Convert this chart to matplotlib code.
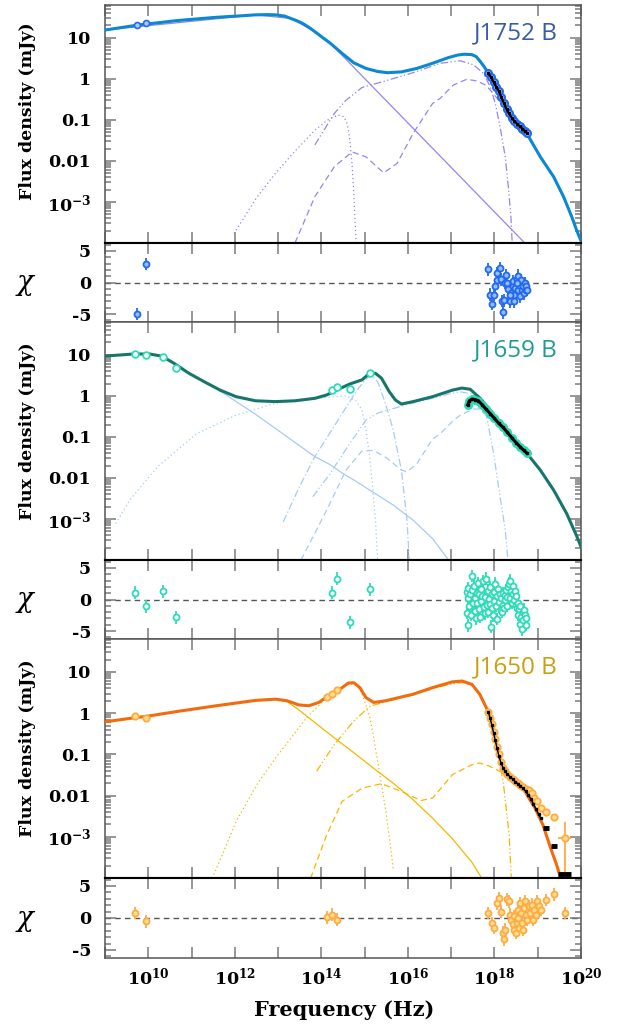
import numpy as np
import matplotlib.pyplot as plt
from matplotlib.ticker import (FixedLocator, FixedFormatter, NullLocator,
                               MultipleLocator, LogLocator, NullFormatter)

plt.rcParams['font.family'] = ['DejaVu Serif']
plt.rcParams['mathtext.fontset'] = 'dejavuserif'
plt.rcParams['mathtext.default'] = 'bf'
plt.rcParams['axes.unicode_minus'] = False

# all frequencies are log10(nu / Hz), all fluxes log10(F / mJy)

# ---------------- J1752 B ----------------
j1752_total_nu = [9.0, 9.75, 10.66, 11.57, 12.2, 12.48, 12.75, 12.94, 13.15, 13.30, 13.45, 13.57, 13.72, 13.85,
                  14.05, 14.21, 14.48, 14.75, 15.03, 15.30, 15.53, 15.85, 16.21, 16.57, 16.94, 17.15,
                  17.30, 17.48, 17.58, 17.66, 17.76, 17.88, 18.10, 18.33, 18.52, 18.73, 19.06, 19.37,
                  19.60, 19.79, 19.90, 20.0]
j1752_total_f = [1.19, 1.31, 1.42, 1.50, 1.54, 1.56, 1.565, 1.56, 1.53, 1.47, 1.41, 1.35, 1.25, 1.15,
                 0.99, 0.865, 0.62, 0.39, 0.255, 0.18, 0.15, 0.17, 0.255, 0.38, 0.52, 0.58,
                 0.60, 0.59, 0.54, 0.44, 0.30, 0.10, -0.30, -0.84, -1.09, -1.30, -1.90, -2.39,
                 -2.88, -3.37, -3.69, -3.95]
j1752_sync_nu = [9.0, 12.48, 13.30, 13.85, 14.21, 18.70]
j1752_sync_f = [1.19, 1.56, 1.47, 1.15, 0.865, -4.0]
j1752_bb_nu = [11.98, 12.5, 12.94, 13.4, 13.85, 14.15, 14.39, 14.52, 14.60, 14.66, 14.71, 14.75, 14.78, 14.81]
j1752_bb_f = [-3.77, -2.9, -2.3, -1.75, -1.25, -1.0, -0.88, -0.92, -1.1, -1.5, -2.1, -2.8, -3.5, -4.1]
j1752_disk_nu = [13.85, 14.3, 14.57, 14.94, 15.48, 16.12, 16.75, 17.21, 17.52, 17.75, 17.90, 18.02,
                 18.13, 18.25, 18.32, 18.38, 18.41]
j1752_disk_f = [-1.61, -0.84, -0.52, -0.21, -0.05, 0.15, 0.38, 0.44, 0.34, 0.13, -0.19, -0.6,
                -1.17, -1.90, -2.63, -3.36, -4.0]
j1752_comp_nu = [13.39, 13.85, 14.3, 14.71, 15.03, 15.44, 15.75, 16.12, 16.57, 16.75, 17.05, 17.36,
                 17.59, 17.79, 17.90, 18.10, 18.33, 18.52, 18.73, 19.06, 19.37, 19.60, 19.79, 19.90, 20.0]
j1752_comp_f = [-4.0, -2.87, -2.14, -1.78, -1.90, -2.29, -2.06, -1.33, -0.60, -0.47, -0.15, -0.01,
                -0.05, -0.15, -0.27, -0.52, -0.86, -1.10, -1.31, -1.91, -2.40, -2.89, -3.38, -3.70, -3.96]
j1752_radio_nu = [9.75, 9.95]
j1752_radio_f = [1.31, 1.35]
j1752_xray_nu = [17.86, 17.92, 17.98, 18.04, 18.10, 18.16, 18.22, 18.28, 18.33, 18.40, 18.46, 18.52,
                 18.58, 18.64, 18.70, 18.75]
j1752_xray_f = [0.14, 0.04, -0.08, -0.19, -0.30, -0.45, -0.60, -0.74, -0.84, -0.95, -1.03, -1.09,
                -1.15, -1.21, -1.27, -1.32]
j1752_res_nu = [9.74, 9.95,
                17.85, 17.89, 17.94, 17.98, 18.01, 18.05, 18.07, 18.12, 18.14, 18.17, 18.19, 18.21,
                18.24, 18.26, 18.30, 18.32, 18.35, 18.37, 18.39, 18.42, 18.44, 18.46, 18.48, 18.51,
                18.54, 18.55, 18.57, 18.59, 18.62, 18.64, 18.65, 18.68, 18.70, 18.72, 18.74, 18.75,
                18.52, 18.45, 18.35]
j1752_res_chi = [-5.0, 2.9,
                 2.1, -1.9, -3.4, -1.9, -0.6, 0.4, 1.5, 2.3, 0.5, -2.9, -4.7, -2.8,
                 0.0, 1.2, -0.1, -1.1, -2.7, -3.0, -1.7, -0.6, 0.2, -1.9, -0.9, 0.5,
                 1.1, -1.2, -0.4, -2.2, 0.4, -1.2, -0.6, -1.7, -0.1, -1.2, -0.6, -1.2,
                 0.0, -3.0, -1.9]

# ---------------- J1659 B ----------------
j1659_total_nu = [9.0, 9.66, 10.03, 10.30, 10.57, 10.94, 11.30, 11.66, 12.03, 12.48, 12.94, 13.39,
                  13.85, 14.12, 14.39, 14.66, 14.94, 15.06, 15.15, 15.25, 15.39, 15.57, 15.71, 15.85,
                  16.12, 16.57, 17.03, 17.25, 17.44, 17.67, 17.90, 18.29, 18.75, 19.06, 19.37, 19.67,
                  19.91, 20.0]
j1659_total_f = [0.97, 1.02, 1.02, 0.97, 0.81, 0.55, 0.34, 0.14, -0.02, -0.12, -0.14, -0.12,
                 -0.06, 0.02, 0.16, 0.29, 0.39, 0.50, 0.55, 0.55, 0.43, 0.10, -0.10, -0.20,
                 -0.14, -0.02, 0.14, 0.19, 0.16, -0.06, -0.35, -0.83, -1.40, -1.81, -2.30, -2.87,
                 -3.44, -3.68]
j1659_sync_nu = [9.0, 9.66, 10.03, 10.30, 10.57, 10.94, 11.30, 11.57, 12.48, 13.85, 14.21, 14.48,
                 14.75, 15.66, 16.12, 16.57, 16.94]
j1659_sync_f = [0.97, 1.02, 1.02, 0.97, 0.81, 0.55, 0.34, 0.18, -0.45, -1.48, -1.68, -1.88,
                -2.05, -2.66, -3.03, -3.48, -4.0]
j1659_dot_nu = [9.25, 9.57, 10.21, 11.12, 12.03, 12.94, 13.85, 14.30, 14.57, 14.80, 14.94, 15.03,
                15.12, 15.17, 15.25, 15.30]
j1659_dot_f = [-3.11, -2.54, -1.73, -0.92, -0.47, -0.18, -0.06, -0.02, 0.0, -0.12, -0.35, -0.83,
               -1.5, -2.05, -3.03, -4.0]
j1659_bb_nu = [13.12, 13.5, 13.85, 14.2, 14.5, 14.8, 15.0, 15.15, 15.3, 15.48, 15.66, 15.85, 15.98, 16.03]
j1659_bb_f = [-3.07, -2.2, -1.48, -0.9, -0.4, 0.1, 0.38, 0.5, 0.35, -0.18, -0.83, -1.81, -3.03, -4.0]
j1659_disk_nu = [13.8, 14.2, 14.6, 15.03, 15.3, 15.66, 16.1, 16.57, 17.0, 17.21, 17.45, 17.66,
                 17.80, 17.98, 18.13, 18.25, 18.31]
j1659_disk_f = [-2.46, -1.9, -1.25, -0.59, -0.42, -0.31, -0.18, -0.06, 0.06, 0.10, 0.05, -0.05,
                -0.4, -1.40, -2.46, -3.27, -4.0]
j1659_comp_nu = [13.53, 14.12, 14.57, 14.94, 15.21, 15.53, 15.85, 15.98, 16.21, 16.57, 16.75, 17.03,
                 17.21, 17.52, 17.67, 17.82, 18.29, 18.75, 19.06, 19.37, 19.67, 19.91, 20.0]
j1659_comp_f = [-4.0, -2.79, -1.81, -1.34, -1.33, -1.53, -1.81, -1.85, -1.65, -1.05, -0.92, -0.62,
                -0.47, -0.32, -0.32, -0.50, -0.84, -1.41, -1.82, -2.31, -2.88, -3.45, -3.70]
j1659_radio_nu = [9.69, 9.94, 10.35, 10.64]
j1659_radio_f = [1.02, 1.0, 0.95, 0.69]
j1659_opt_nu = [14.25, 14.37, 14.66, 15.12]
j1659_opt_f = [0.14, 0.22, 0.16, 0.55]
j1659_xray_nu = [17.38, 17.42, 17.48, 17.56, 17.63, 17.72, 17.80, 17.90, 18.0, 18.1, 18.2, 18.29,
                 18.4, 18.5, 18.6, 18.68, 18.75]
j1659_xray_f = [-0.22, -0.12, -0.08, -0.09, -0.12, -0.22, -0.32, -0.43, -0.55, -0.67, -0.77, -0.88,
                -1.02, -1.14, -1.25, -1.33, -1.40]
j1659_res_nu = [9.69, 9.94, 10.35, 10.64, 14.25, 14.37, 14.66, 15.12,
                17.36, 17.37, 17.38, 17.39, 17.40, 17.42, 17.44, 17.45, 17.47, 17.49, 17.50, 17.52,
                17.54, 17.55, 17.57, 17.59, 17.60, 17.62, 17.64, 17.65, 17.67, 17.69, 17.70, 17.72,
                17.74, 17.75, 17.77, 17.79, 17.80, 17.82, 17.84, 17.85, 17.87, 17.89, 17.90, 17.92,
                17.94, 17.95, 17.97, 17.99, 18.00, 18.02, 18.04, 18.05, 18.07, 18.09, 18.10, 18.12,
                18.14, 18.15, 18.17, 18.19, 18.20, 18.22, 18.24, 18.25, 18.27, 18.29, 18.30, 18.32,
                18.34, 18.35, 18.37, 18.39, 18.40, 18.42, 18.44, 18.45, 18.47, 18.49, 18.50, 18.52,
                18.54, 18.55, 18.57, 18.59, 18.60, 18.62, 18.64, 18.65, 18.67, 18.69, 18.70, 18.72, 18.74]
j1659_res_chi = [1.1, -1.1, 1.3, -2.8, 1.1, 3.3, -3.6, 1.6,
                 1.2, -2.1, -4.1, 0.3, 1.8, -1.0, 0.8, -2.4, 1.5, 3.7, -0.6, 2.2,
                 -1.8, 0.2, -3.0, 1.1, -0.5, 2.6, -1.5, 0.9, -2.7, 1.7, -0.3, 0.6,
                 2.9, -1.2, -2.2, 0.4, 3.3, -0.8, 1.4, -1.9, 0.1, 2.0, -0.7, -4.3,
                 -1.4, 0.9, -2.5, 1.2, -0.2, 2.5, -1.0, 0.5, -3.1, 1.6, -0.4, 0.8,
                 -1.6, 0.3, -2.0, 1.0, -0.9, -1.4, 0.7, -0.1, 1.5, -1.0, 0.4, 1.9,
                 2.5, 0.2, 3.0, 1.3, -0.5, 2.1, 0.9, 0.0, 1.4, -0.8, 0.6, -1.3,
                 -0.6, -2.4, -1.5, -3.9, -1.0, -2.8, -4.7, -2.0, -3.2, -1.6, -2.5, -4.0, -3.0]

# ---------------- J1650 B ----------------
j1650_total_nu = [9.0, 9.69, 9.94, 10.66, 11.57, 12.48, 12.94, 13.21, 13.48, 13.71, 13.94, 14.12,
                  14.30, 14.48, 14.62, 14.75, 14.89, 15.03, 15.21, 15.48, 16.12, 16.57, 17.03, 17.25,
                  17.48, 17.66, 17.85, 17.94, 18.03, 18.12, 18.25, 18.39, 18.66, 18.94, 19.12, 19.30,
                  19.44, 19.53]
j1650_total_f = [-0.21, -0.11, -0.08, 0.04, 0.18, 0.31, 0.34, 0.30, 0.20, 0.18, 0.26, 0.39,
                 0.50, 0.62, 0.73, 0.74, 0.62, 0.38, 0.26, 0.30, 0.46, 0.62, 0.76, 0.78,
                 0.70, 0.46, 0.05, -0.27, -0.68, -1.09, -1.41, -1.57, -1.82, -2.31, -2.71, -3.28,
                 -3.69, -4.01]
j1650_sync_nu = [9.0, 12.48, 12.94, 13.21, 13.48, 13.85, 14.30, 14.75, 15.20, 15.66, 16.12, 16.57,
                 17.03, 17.48, 17.71]
j1650_sync_f = [-0.21, 0.31, 0.34, 0.28, 0.08, -0.23, -0.60, -0.96, -1.33, -1.70, -2.10, -2.55,
                -3.05, -3.62, -4.01]
j1650_bb_nu = [11.48, 12.03, 12.5, 12.94, 13.3, 13.66, 14.0, 14.3, 14.5, 14.66, 14.78, 14.89, 15.0,
               15.12, 15.21, 15.30, 15.39, 15.48, 15.57, 15.66]
j1650_bb_f = [-4.01, -2.63, -1.75, -1.09, -0.6, -0.11, 0.25, 0.50, 0.64, 0.71, 0.69, 0.58, 0.3,
              -0.11, -0.6, -1.17, -1.75, -2.31, -3.0, -3.77]
j1650_disk_nu = [13.89, 14.3, 14.75, 15.12, 15.5, 16.1, 16.6, 17.03, 17.3, 17.5, 17.7, 17.85, 17.98,
                 18.08, 18.21, 18.34, 18.39]
j1650_disk_f = [-1.41, -0.76, -0.19, 0.17, 0.28, 0.44, 0.6, 0.72, 0.74, 0.66, 0.42, 0.0, -0.5,
                -0.93, -1.74, -2.96, -4.01]
j1650_comp_nu = [13.75, 14.12, 14.48, 14.94, 15.39, 15.85, 16.30, 16.57, 17.03, 17.48, 17.66, 17.85,
                 18.12, 18.25, 18.39, 18.66, 18.94, 19.12, 19.30, 19.44, 19.53]
j1650_comp_f = [-4.01, -2.96, -2.14, -1.82, -1.71, -1.90, -2.12, -2.06, -1.49, -1.25, -1.21, -1.27,
                -1.41, -1.45, -1.58, -1.83, -2.32, -2.72, -3.29, -3.70, -4.02]
j1650_radio_nu = [9.69, 9.94]
j1650_radio_f = [-0.07, -0.11]
j1650_opt_nu = [14.12, 14.25, 14.36]
j1650_opt_f = [0.39, 0.47, 0.56]
j1650_xray_nu = [17.86, 17.90, 17.94, 17.98, 18.02, 18.06, 18.10, 18.15, 18.20, 18.25, 18.30, 18.36,
                 18.42, 18.48, 18.54, 18.60, 18.66, 18.72, 18.80, 18.86, 18.92, 18.98, 19.07, 19.19, 19.37]
j1650_xray_f = [0.02, -0.12, -0.27, -0.45, -0.62, -0.82, -1.0, -1.18, -1.32, -1.40, -1.47, -1.54,
                -1.59, -1.64, -1.70, -1.75, -1.80, -1.85, -1.86, -1.93, -2.05, -2.12, -2.30, -2.39, -2.53]
j1650_bins_nu = [17.86, 17.90, 17.94, 17.98, 18.02, 18.06, 18.10, 18.15, 18.20, 18.25, 18.30, 18.36,
                 18.42, 18.48, 18.54, 18.60, 18.66, 18.72, 18.78, 18.84, 18.90, 18.96, 19.02, 19.07]
j1650_bins_f = [0.02, -0.12, -0.29, -0.48, -0.66, -0.85, -1.03, -1.20, -1.33, -1.41, -1.48, -1.54,
                -1.60, -1.66, -1.71, -1.77, -1.82, -1.90, -1.98, -2.08, -2.20, -2.33, -2.45, -2.55]
j1650_hbins_nu = [19.19, 19.37, 19.62]
j1650_hbins_f = [-2.78, -3.22, -3.91]
j1650_hbins_w = [0.07, 0.07, 0.14]
j1650_hard_nu = 19.62
j1650_hard_f = -3.02
j1650_hard_lo = -3.93
j1650_hard_hi = -2.63
j1650_res_nu = [9.69, 9.94, 14.12, 14.25, 14.36,
                17.86, 17.94, 17.98, 18.05, 18.10, 18.14, 18.19, 18.23, 18.25, 18.30, 18.33, 18.35,
                18.39, 18.42, 18.45, 18.46, 18.49, 18.51, 18.54, 18.55, 18.57, 18.59, 18.62, 18.64,
                18.66, 18.68, 18.71, 18.74, 18.75, 18.80, 18.83, 18.86, 18.89, 18.92, 18.95, 18.98,
                19.03, 19.07, 19.19, 19.37, 19.62]
j1650_res_chi = [0.77, -0.51, 0.1, 0.5, -0.26,
                 0.77, -0.77, -1.5, 2.3, 3.1, 1.0, -2.3, -3.3, -1.8, 2.9, 2.6, 0.5,
                 -0.26, -1.0, -1.8, 0.26, -2.3, -0.77, 1.3, 0.0, -1.5, 2.3, 0.77, -0.77,
                 -1.8, 1.5, 2.6, 0.5, -0.26, 1.8, 0.77, 2.05, -0.26, 1.3, 0.5, 2.6,
                 1.8, 1.3, 2.8, 3.7, 0.77]

ytick_vals = [1e-3, 1e-2, 0.1, 1, 10]
ytick_text = ['10$^{-3}$', '0.01', '0.1', '1', '10']
xtick_exp = list(range(9, 21))
xtick_text = ['' if e % 2 else '$10^{%d}$' % e for e in xtick_exp]

W_PX, H_PX = 619, 1027
LEFT, RIGHT = 105, 581
# panel edges in pixels, top to bottom
edges = [5, 243, 322, 560, 639, 878, 958]

fig = plt.figure(figsize=(W_PX / 100, H_PX / 100), dpi=100)


def add_axes_px(top, bottom):
    return fig.add_axes([LEFT / W_PX, 1 - bottom / H_PX, (RIGHT - LEFT) / W_PX, (bottom - top) / H_PX])


def L(v):
    return 10.0 ** np.asarray(v, dtype=float)


def style_common(ax):
    ax.set_xscale('log')
    ax.set_xlim(1e9, 1e20)
    ax.xaxis.set_major_locator(FixedLocator(10.0 ** np.array(xtick_exp)))
    ax.xaxis.set_minor_locator(NullLocator())
    ax.xaxis.set_major_formatter(NullFormatter())
    ax.tick_params(which='both', direction='in', top=True, right=True,
                   color='#7a7a7a', width=1.1, labelsize=12.5, pad=10)
    ax.tick_params(which='major', length=8)
    ax.tick_params(which='minor', length=4)
    for s in ax.spines.values():
        s.set_color('#555555')
        s.set_linewidth(1.1)


def bold_ticklabels(ax):
    for t in ax.get_xticklabels() + ax.get_yticklabels():
        t.set_fontweight('bold')


def style_sed(ax, name, name_color):
    style_common(ax)
    ax.set_yscale('log')
    ax.set_ylim(1e-4, 10 ** 1.8)
    ax.yaxis.set_major_locator(FixedLocator(ytick_vals))
    ax.yaxis.set_major_formatter(FixedFormatter(ytick_text))
    ax.yaxis.set_minor_locator(LogLocator(base=10, subs=np.arange(2, 10), numticks=30))
    ax.yaxis.set_minor_formatter(NullFormatter())
    ax.spines['bottom'].set_color('black')
    ax.spines['bottom'].set_linewidth(1.5)
    bold_ticklabels(ax)
    ax.text(0.952, 0.882, name, transform=ax.transAxes, ha='right', va='center',
            fontsize=17.5, color=name_color, family=['Open Sans', 'DejaVu Sans'])


def style_res(ax, last=False):
    style_common(ax)
    ax.set_ylim(-6.25, 6.25)
    ax.yaxis.set_major_locator(FixedLocator([-5, 0, 5]))
    ax.yaxis.set_major_formatter(FixedFormatter(['-5', '0', '5']))
    ax.yaxis.set_minor_locator(MultipleLocator(1))
    ax.spines['top'].set_color('black')
    ax.spines['top'].set_linewidth(1.5)
    ax.axhline(0, color='#555555', lw=1.0, ls=(0, (4, 3)), zorder=1)
    if last:
        ax.xaxis.set_major_formatter(FixedFormatter(xtick_text))
        ax.tick_params(axis='x', pad=6)
    bold_ticklabels(ax)


def draw_components(ax, comps, color):
    for nu, f, ls in comps:
        ax.plot(L(nu), L(f), color=color, lw=0.9, ls=ls, zorder=2)


def draw_residuals(ax, nu, chi, mec, mfc, xerr=None):
    ax.errorbar(L(nu), chi, yerr=1.0, xerr=xerr, fmt='o', ms=4.3, mec=mec, mfc=mfc, mew=1.3,
                ecolor=mec, elinewidth=1.3, capsize=0, zorder=3)


dot = (0, (1, 2.2))
dash = (0, (5, 3))
dashdot = (0, (6, 2, 1, 2))
dashdotdot = (0, (6, 2, 1, 2, 1, 2))

# ---------- J1752 B ----------
ax1 = add_axes_px(edges[0], edges[1])
style_sed(ax1, 'J1752 B', '#3a5ca6')
c1 = '#9585f0'
draw_components(ax1, [(j1752_sync_nu, j1752_sync_f, '-'),
                      (j1752_bb_nu, j1752_bb_f, dot),
                      (j1752_disk_nu, j1752_disk_f, dashdotdot),
                      (j1752_comp_nu, j1752_comp_f, dash)], c1)
ax1.plot(L(j1752_total_nu), L(j1752_total_f), color='#0a88d2', lw=2.2, zorder=4)
ax1.plot(L(j1752_radio_nu), L(j1752_radio_f), 'o', ms=4.3, mec='#2468f0', mfc='#a8ccff', mew=1.2, zorder=5)
ax1.plot(L(j1752_xray_nu), L(j1752_xray_f), 'o', ms=5.0, mec='#2468f0', mfc='#a8ccff', mew=1.5, zorder=5)
ax1.plot(L(j1752_xray_nu), L(j1752_xray_f), 's-', color='black', ms=1.6, lw=1.6, zorder=6)

r1 = add_axes_px(edges[1], edges[2])
style_res(r1)
draw_residuals(r1, j1752_res_nu, j1752_res_chi, '#2468f0', '#8fc0ff')

# ---------- J1659 B ----------
ax2 = add_axes_px(edges[2], edges[3])
style_sed(ax2, 'J1659 B', '#1f9c96')
c2 = '#a6cbf6'
draw_components(ax2, [(j1659_sync_nu, j1659_sync_f, '-'),
                      (j1659_dot_nu, j1659_dot_f, dot),
                      (j1659_bb_nu, j1659_bb_f, dashdot),
                      (j1659_disk_nu, j1659_disk_f, dashdotdot),
                      (j1659_comp_nu, j1659_comp_f, dash)], c2)
ax2.plot(L(j1659_total_nu), L(j1659_total_f), color='#17766b', lw=2.2, zorder=4)
for nu, f in [(j1659_radio_nu, j1659_radio_f), (j1659_opt_nu, j1659_opt_f)]:
    ax2.plot(L(nu), L(f), 'o', ms=4.8, mec='#2cdcb8', mfc='white', mew=1.3, zorder=5)
ax2.plot(L(j1659_xray_nu), L(j1659_xray_f), 'o', ms=5.2, mec='#2cdcb8', mfc='#2cdcb8', mew=1.3, zorder=5)
ax2.plot(L(j1659_xray_nu), L(j1659_xray_f), 's-', color='black', ms=1.8, lw=2.2, zorder=6)

r2 = add_axes_px(edges[3], edges[4])
style_res(r2)
draw_residuals(r2, j1659_res_nu, j1659_res_chi, '#2cdcb8', 'white')

# ---------- J1650 B ----------
ax3 = add_axes_px(edges[4], edges[5])
style_sed(ax3, 'J1650 B', '#c9a011')
c3 = '#f6b600'
draw_components(ax3, [(j1650_sync_nu, j1650_sync_f, '-'),
                      (j1650_bb_nu, j1650_bb_f, dot),
                      (j1650_disk_nu, j1650_disk_f, dashdotdot),
                      (j1650_comp_nu, j1650_comp_f, dash)], c3)
ax3.plot(L(j1650_total_nu), L(j1650_total_f), color='#f26b0c', lw=2.2, zorder=4)
for nu, f in [(j1650_radio_nu, j1650_radio_f), (j1650_opt_nu, j1650_opt_f), (j1650_xray_nu, j1650_xray_f)]:
    ax3.plot(L(nu), L(f), 'o', ms=4.6, mec='#ffab45', mfc='#ffe08c', mew=1.3, zorder=5)
hard_nu = L([j1650_hard_nu])
hard_f = L([j1650_hard_f])
ax3.errorbar(hard_nu, hard_f,
             yerr=[hard_f - L([j1650_hard_lo]), L([j1650_hard_hi]) - hard_f],
             xerr=[hard_nu - L([j1650_hard_nu - 0.14]), L([j1650_hard_nu + 0.14]) - hard_nu],
             fmt='o', ms=4.6, mec='#ffab45', mfc='#ffe08c', mew=1.3, ecolor='#ffab45',
             elinewidth=1.3, capsize=0, zorder=5)
ax3.plot(L(j1650_bins_nu), L(j1650_bins_f), 's-', color='black', ms=1.8, lw=1.0, zorder=6)
for nu, f, w in zip(j1650_hbins_nu, j1650_hbins_f, j1650_hbins_w):
    ax3.plot(L([nu - w, nu + w]), L([f, f]), color='black', lw=3.5, solid_capstyle='butt', zorder=6)

r3 = add_axes_px(edges[5], edges[6])
style_res(r3, last=True)
draw_residuals(r3, j1650_res_nu, j1650_res_chi, '#ffab45', '#ffe08c', xerr=None)

# axis titles
for yc in [111, 431, 748]:
    fig.text(27 / W_PX, 1 - yc / H_PX, 'Flux density (mJy)', rotation=90, ha='center', va='center',
             fontsize=12.5, fontweight='bold')
for top, bottom in [(edges[1], edges[2]), (edges[3], edges[4]), (edges[5], edges[6])]:
    fig.text(25 / W_PX, 1 - (top + bottom) / 2 / H_PX, '\u03c7', ha='center', va='center',
             fontsize=20, fontstyle='italic')
fig.text(344 / W_PX, 1 - 1010 / H_PX, 'Frequency (Hz)', ha='center', va='center',
         fontsize=15, fontweight='bold')

fig.savefig('out.png', dpi=100)
